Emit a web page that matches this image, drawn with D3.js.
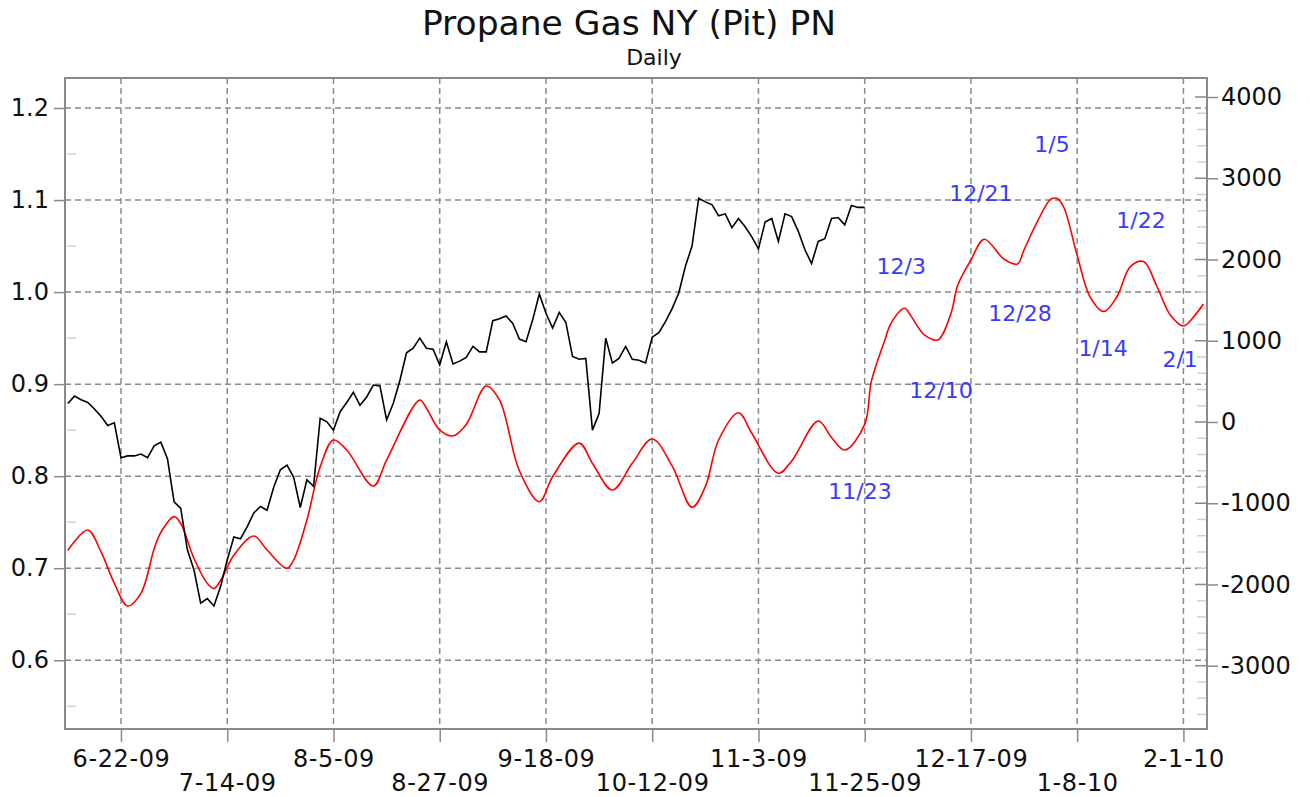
<!DOCTYPE html>
<html>
<head>
<meta charset="utf-8">
<script src="https://cdn.jsdelivr.net/npm/d3@7"></script>
<style>
  body { margin: 0; background: #fff; }
  svg text { font-family: "DejaVu Sans", Verdana, sans-serif; fill: #111; }
</style>
</head>
<body>
<svg width="1310" height="797"></svg>
<script>
// trading-day offsets from 6-22-09, one tick label every 16 sessions
var xTickDays = [0, 16, 32, 48, 64, 80, 96, 112, 128, 144, 160];
var xTickLabels = ['6-22-09', '7-14-09', '8-5-09', '8-27-09', '9-18-09', '10-12-09', '11-3-09', '11-25-09', '12-17-09', '1-8-10', '2-1-10'];
var leftTicks = [0.6, 0.7, 0.8, 0.9, 1.0, 1.1, 1.2];
var rightTicks = [-3000, -2000, -1000, 0, 1000, 2000, 3000, 4000];

// price, daily, starting at day -8
var priceStart = -8;
var price = [0.879, 0.887, 0.883, 0.880, 0.873, 0.865, 0.855, 0.858,
  0.820, 0.822, 0.822, 0.824, 0.820, 0.833, 0.837, 0.819, 0.772, 0.765, 0.720, 0.698, 0.662, 0.667, 0.659, 0.680,
  0.709, 0.734, 0.732, 0.745, 0.760, 0.767, 0.763, 0.788, 0.807, 0.812, 0.799, 0.766, 0.796, 0.789, 0.863, 0.859,
  0.850, 0.870, 0.880, 0.891, 0.877, 0.886, 0.899, 0.898, 0.861, 0.879, 0.904, 0.934, 0.939, 0.950, 0.939, 0.938,
  0.921, 0.946, 0.922, 0.925, 0.929, 0.941, 0.935, 0.935, 0.969, 0.971, 0.974, 0.966, 0.949, 0.946, 0.970, 0.998,
  0.977, 0.961, 0.978, 0.967, 0.930, 0.927, 0.928, 0.850, 0.868, 0.950, 0.923, 0.928, 0.941, 0.927, 0.926, 0.923,
  0.951, 0.956, 0.968, 0.982, 0.999, 1.028, 1.050, 1.102, 1.098, 1.095, 1.083, 1.085, 1.070, 1.080, 1.071, 1.060,
  1.047, 1.076, 1.080, 1.055, 1.085, 1.082, 1.066, 1.046, 1.031, 1.055, 1.058, 1.080, 1.081, 1.073, 1.094, 1.092,
  1.092];

// cycle line (right axis)
var cycleDays = [-8, -5, -3, -1, 1, 3, 5, 6, 8, 9, 11, 13, 14, 15, 17, 20, 22, 25, 26, 28, 30, 32, 34, 38, 40, 45, 46, 48,
  50, 52, 55, 57, 60, 63, 65, 69, 71, 74, 77, 80, 83, 86, 88, 90, 93, 95, 99, 101, 105, 107, 109, 112, 113, 115, 116,
  118, 119, 121, 123, 125, 126, 128, 130, 133, 135, 136, 138, 140, 141, 142, 144, 146, 148, 150, 152, 154, 156, 158,
  160, 162, 163];
var cycleValues = [-1580, -1330, -1600, -1986, -2265, -2109, -1560, -1360, -1165, -1250, -1680, -1986, -2050, -1950,
  -1640, -1403, -1576, -1801, -1700, -1206, -550, -222, -345, -788, -468, 271, 170, -98,
  -172, -30, 443, 271, -600, -981, -674, -260, -508, -837, -508, -209, -540, -1050, -796, -222, 114, -139, -631, -480,
  12, -190, -345, -30, 500, 1000, 1220, 1400, 1300, 1071, 1010, 1338, 1680, 1994, 2249, 2003, 1945, 2120, 2466, 2740,
  2750, 2640, 2050, 1530, 1359, 1544, 1912, 1974, 1670, 1320, 1182, 1340, 1452];

var noteText = ['11/23', '12/3', '12/10', '12/21', '12/28', '1/5', '1/14', '1/22', '2/1'];
var noteDay = [111.3, 117.5, 123.5, 129.5, 135.4, 140.2, 147.9, 153.6, 159.5];
var noteValue = [-849, 1920, 394, 2819, 1342, 3422, 911, 2486, 775];

var svg = d3.select('svg');
var L = 65, R = 1207, T = 78, B = 729;

var x = d3.scaleLinear().domain([-8.43, 163.55]).range([L, R]);
var yL = d3.scaleLinear().domain([0.5253, 1.2326]).range([B, T]);
var yR = d3.scaleLinear().domain([-3779, 4234]).range([B, T]);

var gridColor = '#8a8a8a';

// title
svg.append('text').attr('x', 629).attr('y', 35).attr('text-anchor', 'middle').style('font-size', '34.5px').text('Propane Gas NY (Pit) PN');
svg.append('text').attr('x', 654).attr('y', 65).attr('text-anchor', 'middle').style('font-size', '22px').text('Daily');

// grid
var grid = svg.append('g');
grid.selectAll('.hg').data(leftTicks).enter().append('line')
  .attr('x1', L).attr('x2', R).attr('y1', function(d) { return yL(d); }).attr('y2', function(d) { return yL(d); })
  .attr('stroke', gridColor).attr('stroke-width', 1.5).attr('stroke-dasharray', '6,4');
grid.selectAll('.vg').data(xTickDays).enter().append('line')
  .attr('x1', function(d) { return x(d); }).attr('x2', function(d) { return x(d); }).attr('y1', T).attr('y2', B)
  .attr('stroke', gridColor).attr('stroke-width', 1.5).attr('stroke-dasharray', '6,4');

// minor ticks
var minorL = [0.55, 0.65, 0.75, 0.85, 0.95, 1.05, 1.15];
svg.selectAll('.ml').data(minorL).enter().append('line')
  .attr('x1', L + 2).attr('x2', L + 11).attr('y1', function(d) { return yL(d); }).attr('y2', function(d) { return yL(d); })
  .attr('stroke', '#d0d0d0').attr('stroke-width', 1.5);
var minorR = d3.range(-3600, 4000, 200).filter(function(d) { return d % 1000 !== 0; });
svg.selectAll('.mr').data(minorR).enter().append('line')
  .attr('x1', R - 10).attr('x2', R).attr('y1', function(d) { return yR(d); }).attr('y2', function(d) { return yR(d); })
  .attr('stroke', '#d0d0d0').attr('stroke-width', 1.5);
svg.selectAll('.mrr').data(rightTicks).enter().append('line')
  .attr('x1', R - 12).attr('x2', R).attr('y1', function(d) { return yR(d); }).attr('y2', function(d) { return yR(d); })
  .attr('stroke', gridColor).attr('stroke-width', 1.5);

// frame
svg.append('rect').attr('x', L).attr('y', T).attr('width', R - L).attr('height', B - T)
  .attr('fill', 'none').attr('stroke', gridColor).attr('stroke-width', 2);

// axes
var axL = svg.append('g').attr('transform', 'translate(' + L + ',0)')
  .call(d3.axisLeft(yL).tickValues(leftTicks).tickFormat(d3.format('.1f')).tickSize(11).tickPadding(5));
var axR = svg.append('g').attr('transform', 'translate(' + R + ',0)')
  .call(d3.axisRight(yR).tickValues(rightTicks).tickFormat(function(d) { return String(d); }).tickSize(11).tickPadding(3));
var axB = svg.append('g').attr('transform', 'translate(0,' + B + ')')
  .call(d3.axisBottom(x).tickValues(xTickDays).tickFormat(function(d, i) { return xTickLabels[i]; }).tickSize(13));
[axL, axR, axB].forEach(function(a) {
  a.select('.domain').remove();
  a.selectAll('line').attr('stroke', gridColor).attr('stroke-width', 1.5);
  a.selectAll('text').style('font-size', '24px').attr('fill', '#111');
});
axL.selectAll('text').attr('x', -16);
axR.selectAll('text').attr('x', 14);
axB.selectAll('text').attr('dy', 0).style('letter-spacing', '0.6px')
  .attr('y', function(d, i) { return i % 2 === 0 ? 38 : 62; });

// lines
var cycle = cycleDays.map(function(d, i) { return [d, cycleValues[i]]; });
svg.append('path').datum(cycle)
  .attr('d', d3.line().x(function(d) { return x(d[0]); }).y(function(d) { return yR(d[1]); }).curve(d3.curveCatmullRom.alpha(0.5)))
  .attr('fill', 'none').attr('stroke', '#ff0000').attr('stroke-width', 1.6);

svg.append('path').datum(price)
  .attr('d', d3.line().x(function(d, i) { return x(priceStart + i); }).y(function(d) { return yL(d); }))
  .attr('fill', 'none').attr('stroke', '#000').attr('stroke-width', 1.6);

// cycle date notes
svg.selectAll('.note').data(noteText).enter().append('text')
  .attr('x', function(d, i) { return x(noteDay[i]); })
  .attr('y', function(d, i) { return yR(noteValue[i]); })
  .attr('dy', '0.36em').attr('text-anchor', 'middle')
  .style('font-size', '22px').style('fill', '#3a3aff')
  .text(function(d) { return d; });
</script>
</body>
</html>
